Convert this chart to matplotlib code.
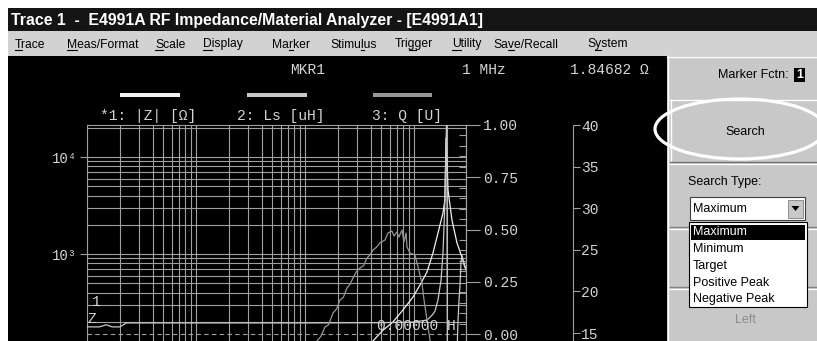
import numpy as np
import matplotlib
matplotlib.use("Agg")
import matplotlib.pyplot as plt
from matplotlib.patches import Rectangle, Ellipse, Polygon
from matplotlib.lines import Line2D
from matplotlib.font_manager import FontProperties
from matplotlib.ticker import LogLocator, FixedLocator, MultipleLocator, FuncFormatter, FormatStrFormatter

# ---- data (frequency in MHz) ----
freq_z = [1, 100, 300, 421, 520, 641, 793, 979, 1135, 1315, 1493, 1660, 1845, 1920,
          1966, 2010, 2050, 2230, 2480, 2750, 3000]
z_ohm = [1.85, 25, 80, 127, 164, 199, 265, 360, 479, 652, 1024, 1646, 2646, 3600,
         15700, 9310, 4570, 2240, 1300, 930, 700]

freq_ls = [1, 1.3, 1.5, 1.7, 2.0, 2.3, 10, 100, 500, 1000, 1315, 1403, 1493, 1559,
           1660, 1770, 1845, 1884, 1923, 1966, 2000, 2030, 2478, 2535, 2588, 2644,
           2700, 2757, 2876, 3000]
ls_uh = [0.034, 0.034, 0.044, 0.034, 0.034, 0.053, 0.053, 0.053, 0.054, 0.057, 0.067,
         0.080, 0.095, 0.110, 0.163, 0.258, 0.388, 0.512, 0.641, 0.880, 1.10, -0.50,
         -0.10, 0.067, 0.163, 0.234, 0.344, 0.378, 0.330, 0.306]

freq_q = [50, 100, 128.8, 140, 152.5, 165, 180.6, 195, 209.5, 225, 242.8, 260, 275.6,
          297, 319.6, 345, 370.5, 395, 420.7, 452, 487.5, 542, 577, 628, 656, 698, 728,
          776, 809, 845, 863, 918, 1021, 1089, 1183, 1236, 1288, 1343, 1403, 1432]
q_val = [8.0, 12.0, 14.04, 14.6, 15.72, 16.0, 17.4, 17.9, 18.97, 19.3, 20.41, 20.9,
         21.61, 22.4, 22.81, 23.1, 24.01, 24.4, 24.98, 25.3, 25.82, 26.18, 27.02, 27.26,
         26.66, 27.14, 26.54, 27.38, 25.94, 27.02, 25.34, 24.62, 24.38, 22.93, 21.01,
         18.97, 17.40, 15.72, 14.16, 12.96]

ls_ticks = [0.0, 0.25, 0.50, 0.75, 1.00]
q_ticks = [15, 20, 25, 30, 35, 40]
z_labels = {100: "10²", 1000: "10³", 10000: "10⁴"}

menu = [("Trace", 15, 0), ("Meas/Format", 67, 0), ("Scale", 155, 0), ("Display", 203, 0),
        ("Marker", 272, 2), ("Stimulus", 330, 5), ("Trigger", 395, 3), ("Utility", 452, 0),
        ("Save/Recall", 493, 2), ("System", 587, 1)]
search_types = ["Maximum", "Minimum", "Target", "Positive Peak", "Negative Peak"]

W, H = 817, 341
MONO = ['Liberation Mono', 'DejaVu Sans Mono']
SANS = ['Liberation Sans', 'DejaVu Sans']
GRID = '#a0a0a0'
TXT = '#d4d4d4'
PANEL = '#c8c8c8'


def fx(x):
    return x / W


def fy(y):
    return 1 - y / H


fig = plt.figure(figsize=(W / 100, H / 100), dpi=100, facecolor='white')


def box(x0, y0, x1, y1, color, z=-5, ec='none', lw=0):
    fig.add_artist(Rectangle((fx(x0), fy(y1)), (x1 - x0) / W, (y1 - y0) / H,
                             transform=fig.transFigure, facecolor=color,
                             edgecolor=ec, lw=lw, zorder=z))


def hline(x0, x1, y, color, lw=0.8, z=2, ls='-'):
    fig.add_artist(Line2D([fx(x0), fx(x1)], [fy(y), fy(y)], transform=fig.transFigure,
                          color=color, lw=lw, zorder=z, ls=ls))


def vline(x, y0, y1, color, lw=0.8, z=2):
    fig.add_artist(Line2D([fx(x), fx(x)], [fy(y0), fy(y1)], transform=fig.transFigure,
                          color=color, lw=lw, zorder=z))


def label(x, y, s, **kw):
    kw.setdefault('va', 'center')
    kw.setdefault('ha', 'left')
    fig.text(fx(x), fy(y), s, **kw)


# ---- window frame ----
box(8, 8, 817, 31, '#141414')
label(11, 24.5, "Trace 1  -  E4991A RF Impedance/Material Analyzer - [E4991A1]",
      va='baseline', color='white', fontsize=11.4, fontweight='bold', family=SANS)
box(8, 31, 817, 56, '#d2d2d2')
box(8, 56, 667, 341, 'black')
box(667, 56, 817, 341, PANEL)

# menu with underlined mnemonics
renderer = fig.canvas.get_renderer()
mprop = FontProperties(family=SANS, size=8.7)
for name, x0, k in menu:
    label(x0, 47.5, name, va='baseline', color='black', fontproperties=mprop)
    w0 = renderer.get_text_width_height_descent(name[:k], mprop, ismath=False)[0] if k else 0
    w1 = renderer.get_text_width_height_descent(name[:k + 1], mprop, ismath=False)[0]
    hline(x0 + w0, x0 + w1, 49.5, 'black', lw=0.8)

# ---- measurement axes ----
ax = fig.add_axes([fx(87), 0, (466 - 87) / W, (341 - 125) / H])
ax.set_facecolor('black')
ax.set_xscale('log')
ax.set_yscale('log')
ax.set_xlim(1, 3000)
ax.set_ylim(10 ** 2.1031, 10 ** 4.3299)
ax.xaxis.set_major_locator(LogLocator(base=10, subs=(1.0,), numticks=20))
ax.xaxis.set_minor_locator(LogLocator(base=10, subs=np.arange(2, 10), numticks=20))
ax.yaxis.set_major_locator(FixedLocator(list(z_labels)))
ax.yaxis.set_minor_locator(LogLocator(base=10, subs=np.arange(2, 10), numticks=20))
ax.yaxis.set_major_formatter(FuncFormatter(lambda v, p: z_labels.get(int(round(v)), "")))
ax.grid(True, which='both', color=GRID, lw=0.8)
ax.tick_params(axis='x', which='both', length=0, labelbottom=False)
ax.tick_params(axis='y', which='major', direction='out', length=5, width=0.8, color=GRID,
               labelcolor=TXT, labelsize=10, pad=2, labelfontfamily=MONO)
ax.tick_params(axis='y', which='minor', length=0)
for s in ax.spines.values():
    s.set_color(GRID)
    s.set_linewidth(0.8)
ax.spines['bottom'].set_visible(False)
ax.plot(freq_z, z_ohm, color='#f2f2f2', lw=0.9, zorder=5)

# Ls scale (uH)
ax2 = ax.twinx()
ax2.set_ylim(-7 / 209, 1.0)
ax2.yaxis.set_major_locator(FixedLocator(ls_ticks))
ax2.yaxis.set_minor_locator(MultipleLocator(0.05))
ax2.yaxis.set_major_formatter(FormatStrFormatter('%.2f'))
ax2.tick_params(axis='y', which='major', direction='out', length=10, width=0.8, color=GRID,
                labelcolor=TXT, labelsize=10.5, pad=2, labelfontfamily=MONO)
ax2.tick_params(axis='y', which='minor', direction='in', length=5, width=0.8, color=GRID)
for k in ['left', 'top', 'bottom']:
    ax2.spines[k].set_visible(False)
ax2.spines['right'].set_color(GRID)
ax2.axhline(0, color=GRID, lw=0.8, ls=(0, (4, 3)))
ax2.plot(freq_ls, ls_uh, color='#c8c8c8', lw=0.9)

# Q scale
ax3 = ax.twinx()
ax3.spines['right'].set_position(('axes', (573 - 87) / (466 - 87)))
ax3.set_ylim(14.04, 40)
ax3.yaxis.set_major_locator(FixedLocator(q_ticks))
ax3.tick_params(axis='y', which='major', direction='out', length=5, width=0.8, color=GRID,
                labelcolor=TXT, labelsize=10.5, pad=1, labelfontfamily=MONO)
for k in ['left', 'top', 'bottom']:
    ax3.spines[k].set_visible(False)
ax3.spines['right'].set_color(GRID)
ax3.plot(freq_q, q_val, color='#969696', lw=0.9)

# ---- screen annotations ----
mono = dict(family=MONO, fontsize=10.5, color=TXT)
label(290, 70, "MKR1", **mono)
label(462, 70, "1 MHz", **mono)
label(570, 70, "1.84682 Ω", **mono)
box(120, 93, 180, 97, '#f2f2f2', z=2)
box(247, 93, 307, 97, '#c8c8c8', z=2)
box(373, 93, 432, 97, '#969696', z=2)
label(100, 116, "*1: |Z| [Ω]", **mono)
label(237, 116, "2: Ls [uH]", **mono)
label(372, 116, "3: Q [U]", **mono)
label(377, 326, "0.00000 H", **mono)
label(92, 302, "1", **mono)
label(87, 319, "Z", **mono)

# ---- right panel ----
sans = dict(family=SANS, fontsize=9, color='black')
vline(667.5, 56, 341, 'white', lw=1)
hline(667, 817, 57, 'white', lw=1)
label(789, 75, "Marker Fctn:", ha='right', **sans)
box(794, 68, 805, 82, 'black', z=2)
label(799.5, 75, "1", ha='center', family=SANS, fontsize=9, color='white', fontweight='bold')

hline(670, 817, 100, 'white', lw=1)
vline(670.5, 100, 162, 'white', lw=1)
hline(670, 817, 162, '#707070', lw=1)
hline(670, 817, 163.5, 'white', lw=1)
label(745, 132, "Search", ha='center', **sans)
fig.add_artist(Ellipse((fx(740), fy(129)), 170 / W, 60 / H, transform=fig.transFigure,
                       fill=False, edgecolor='white', lw=2.3, zorder=4))

label(688, 182, "Search Type:", **sans)
box(690, 197, 805, 220, 'white', z=2, ec='#404040', lw=0.8)
box(788, 199.5, 803, 218, PANEL, z=3, ec='#808080', lw=0.6)
fig.add_artist(Polygon([(fx(791.5), fy(206)), (fx(799.5), fy(206)), (fx(795.5), fy(211))],
                       closed=True, transform=fig.transFigure, facecolor='black',
                       edgecolor='none', zorder=4))
label(693, 209, "Maximum", **sans)

for y in (227, 287):
    hline(670, 689, y, '#808080', lw=1)
    hline(670, 689, y + 1.5, 'white', lw=1)
    hline(807, 817, y, '#808080', lw=1)
    hline(807, 817, y + 1.5, 'white', lw=1)
box(689, 222, 807, 307, 'white', z=2, ec='black', lw=0.8)
box(691, 224.5, 805, 239.5, 'black', z=3)
item_y = [232, 249, 266, 283, 299]
for i, (name, y) in enumerate(zip(search_types, item_y)):
    label(693, y, name, family=SANS, fontsize=9, color='white' if i == 0 else 'black')
label(745, 320, "Left", ha='center', family=SANS, fontsize=9, color='#8c8c8c')

fig.savefig("out.png", dpi=100, facecolor=fig.get_facecolor())
